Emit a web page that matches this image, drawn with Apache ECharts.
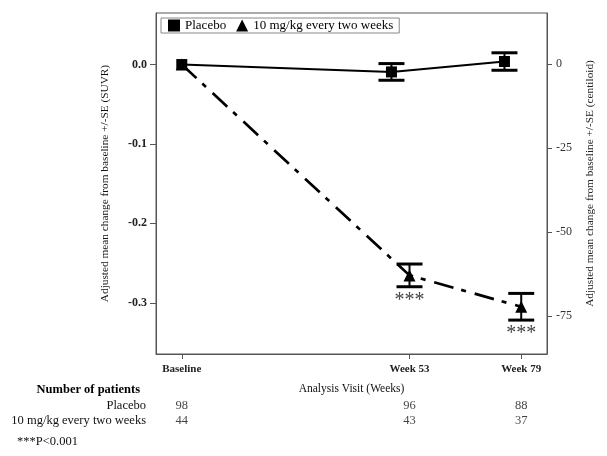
<!DOCTYPE html>
<html>
<head>
<meta charset="utf-8">
<script src="https://cdn.jsdelivr.net/npm/echarts@6/dist/echarts.min.js"></script>
<style>
html,body{margin:0;padding:0;background:#fff;}
#chart{width:607px;height:456px;}
</style>
</head>
<body>
<div id="chart"></div>
<script>
// visits on the x axis (weeks)
var visitWeeks = [0, 53, 79];
var visitLabels = ['Baseline', 'Week 53', 'Week 79'];
// placebo is drawn a little left of the tick so the bars do not overlap
var placeboWeeks = [0, 48.8, 75.1];
var placeboMean = [0, -0.0093, 0.0038];
var placeboSE = [0, 0.0105, 0.011];
var activeWeeks = [0, 53, 79];
var activeMean = [0, -0.2655, -0.305];
var activeSE = [0, 0.0143, 0.0168];
var activeStars = ['', '***', '***'];
var suvrTicks = [0, -0.1, -0.2, -0.3];
var centiloidTicks = [0, -25, -50, -75];
var tableRows = ['Placebo', '10 mg/kg every two weeks'];
var nPlacebo = [98, 96, 88];
var nActive = [44, 43, 37];

var SERIF = '"Liberation Serif", "DejaVu Serif", serif';

function pairs(xs, ys, extra){
	var out = [];
	for(var i=0;i<xs.length;i++){
		out.push(extra ? [xs[i], ys[i], extra[i]] : [xs[i], ys[i]]);
	}
	return out;
}

function errorBarItem(stars){
	return function(params, api){
		var x = api.value(0), m = api.value(1), se = api.value(2);
		if(!se){
			return null;
		}
		var top = api.coord([x, m + se]);
		var bot = api.coord([x, m - se]);
		var half = 13;
		var kids = [
			{type:'line', shape:{x1:top[0], y1:top[1], x2:bot[0], y2:bot[1]}, style:{stroke:'#000', lineWidth:2}},
			{type:'line', shape:{x1:top[0]-half, y1:top[1], x2:top[0]+half, y2:top[1]}, style:{stroke:'#000', lineWidth:3}},
			{type:'line', shape:{x1:bot[0]-half, y1:bot[1], x2:bot[0]+half, y2:bot[1]}, style:{stroke:'#000', lineWidth:3}}
		];
		if(stars && stars[params.dataIndex]){
			kids.push({type:'text', x:bot[0], y:bot[1]+4, style:{
				text:stars[params.dataIndex], fill:'#444', fontSize:20, fontFamily:SERIF,
				align:'center', verticalAlign:'top'}});
		}
		return {type:'group', children:kids};
	};
}

function weekLabel(v){
	var i = visitWeeks.indexOf(v);
	return i < 0 ? '' : visitLabels[i];
}

var tableData = [];
for(var i=0;i<visitWeeks.length;i++){
	tableData.push([visitWeeks[i], 0, nPlacebo[i]]);
	tableData.push([visitWeeks[i], 1, nActive[i]]);
}

var option = {
	animation: false,
	backgroundColor: '#fff',
	textStyle: {fontFamily: SERIF},
	legend: {
		left: 161, top: 18,
		orient: 'horizontal',
		borderColor: '#888', borderWidth: 1,
		padding: [1, 6, 1, 7],
		itemWidth: 12, itemHeight: 12, itemGap: 10,
		textStyle: {fontSize: 13, color: '#000', fontFamily: SERIF},
		data: [{name:'Placebo', icon:'rect'}, {name:'10 mg/kg every two weeks', icon:'triangle'}]
	},
	grid: [
		{left:156, right:60, top:13, bottom:102, show:true, borderColor:'#555', borderWidth:1, outerBoundsMode:'none'},
		{left:156, right:60, top:398, height:30, outerBoundsMode:'none'}
	],
	xAxis: [
		{
			gridIndex: 0, type: 'value', min: -6, max: 85,
			splitLine: {show:false},
			axisLine: {onZero:false, lineStyle:{color:'#555'}},
			axisTick: {customValues: visitWeeks, length: 5, lineStyle:{color:'#555'}},
			axisLabel: {customValues: visitWeeks, formatter: weekLabel, margin: 10,
				fontSize: 11, fontWeight: 'bold', color: '#222', fontFamily: SERIF},
			name: 'Analysis Visit (Weeks)', nameLocation: 'middle', nameGap: 29,
			nameTextStyle: {fontSize: 11.5, color: '#111', fontFamily: SERIF}
		},
		{gridIndex: 1, type: 'value', min: -6, max: 85, show: false}
	],
	yAxis: [
		{
			gridIndex: 0, type: 'value', position: 'left', min: -0.3645, max: 0.0649,
			splitLine: {show:false},
			axisLine: {show:true, onZero:false, lineStyle:{color:'#555'}},
			axisTick: {customValues: suvrTicks, length: 6, lineStyle:{color:'#555'}},
			axisLabel: {customValues: suvrTicks, formatter: function(v){ return v.toFixed(1); },
				margin: 9, fontSize: 12, fontWeight: 'bold', color: '#222', fontFamily: SERIF},
			name: 'Adjusted mean change from baseline +/-SE (SUVR)',
			nameLocation: 'middle', nameRotate: 90, nameGap: 45,
			nameTextStyle: {fontSize: 11.3, color: '#111', fontFamily: SERIF}
		},
		{
			gridIndex: 0, type: 'value', position: 'right', min: -86.3, max: 15.27,
			splitLine: {show:false},
			axisLine: {show:true, onZero:false, lineStyle:{color:'#555'}},
			axisTick: {customValues: centiloidTicks, length: 5, lineStyle:{color:'#555'}},
			axisLabel: {customValues: centiloidTicks, margin: 9, fontSize: 12, color: '#333', fontFamily: SERIF},
			name: 'Adjusted mean change from baseline +/-SE (centiloid)',
			nameLocation: 'middle', nameRotate: 90, nameGap: 38,
			nameTextStyle: {fontSize: 11.3, color: '#222', fontFamily: SERIF}
		},
		{
			gridIndex: 1, type: 'category', data: tableRows, inverse: true,
			axisLine: {show:false}, axisTick: {show:false}, splitLine: {show:false},
			axisLabel: {interval: 0, margin: 10, fontSize: 12.5, color: '#111', fontFamily: SERIF}
		}
	],
	graphic: [
		{type:'text', x:140, y:390, style:{text:'Number of patients', fill:'#000', fontSize:12.5,
			fontWeight:'bold', fontFamily:SERIF, align:'right', verticalAlign:'middle'}},
		{type:'text', x:17, y:442, style:{text:'***P<0.001', fill:'#111', fontSize:12.5,
			fontFamily:SERIF, align:'left', verticalAlign:'middle'}}
	],
	series: [
		{
			type: 'custom', name: 'activeErr', xAxisIndex: 0, yAxisIndex: 0, z: 2,
			renderItem: errorBarItem(activeStars), encode: {x:0, y:1},
			data: pairs(activeWeeks, activeMean, activeSE), silent: true
		},
		{
			type: 'custom', name: 'placeboErr', xAxisIndex: 0, yAxisIndex: 0, z: 2,
			renderItem: errorBarItem(null), encode: {x:0, y:1},
			data: pairs(placeboWeeks, placeboMean, placeboSE), silent: true
		},
		{
			type: 'line', name: '10 mg/kg every two weeks', xAxisIndex: 0, yAxisIndex: 0, z: 3,
			data: pairs(activeWeeks, activeMean),
			symbol: 'triangle', symbolSize: 12, showAllSymbol: true,
			itemStyle: {color:'#000'},
			lineStyle: {color:'#000', width:2.7, type:[20, 8, 5, 9]}
		},
		{
			type: 'line', name: 'Placebo', xAxisIndex: 0, yAxisIndex: 0, z: 4,
			data: pairs(placeboWeeks, placeboMean),
			symbol: 'rect', symbolSize: 11, showAllSymbol: true,
			itemStyle: {color:'#000'},
			lineStyle: {color:'#000', width:2, type:'solid'}
		},
		{
			type: 'scatter', name: 'table', xAxisIndex: 1, yAxisIndex: 2,
			data: tableData, symbolSize: 1, itemStyle: {color:'rgba(0,0,0,0)'}, silent: true,
			label: {show:true, position:'inside', formatter:function(p){ return p.value[2]; },
				fontSize: 12.5, color: '#111', fontFamily: SERIF}
		}
	]
};

var chart = echarts.init(document.getElementById('chart'));
chart.setOption(option);
</script>
</body>
</html>
